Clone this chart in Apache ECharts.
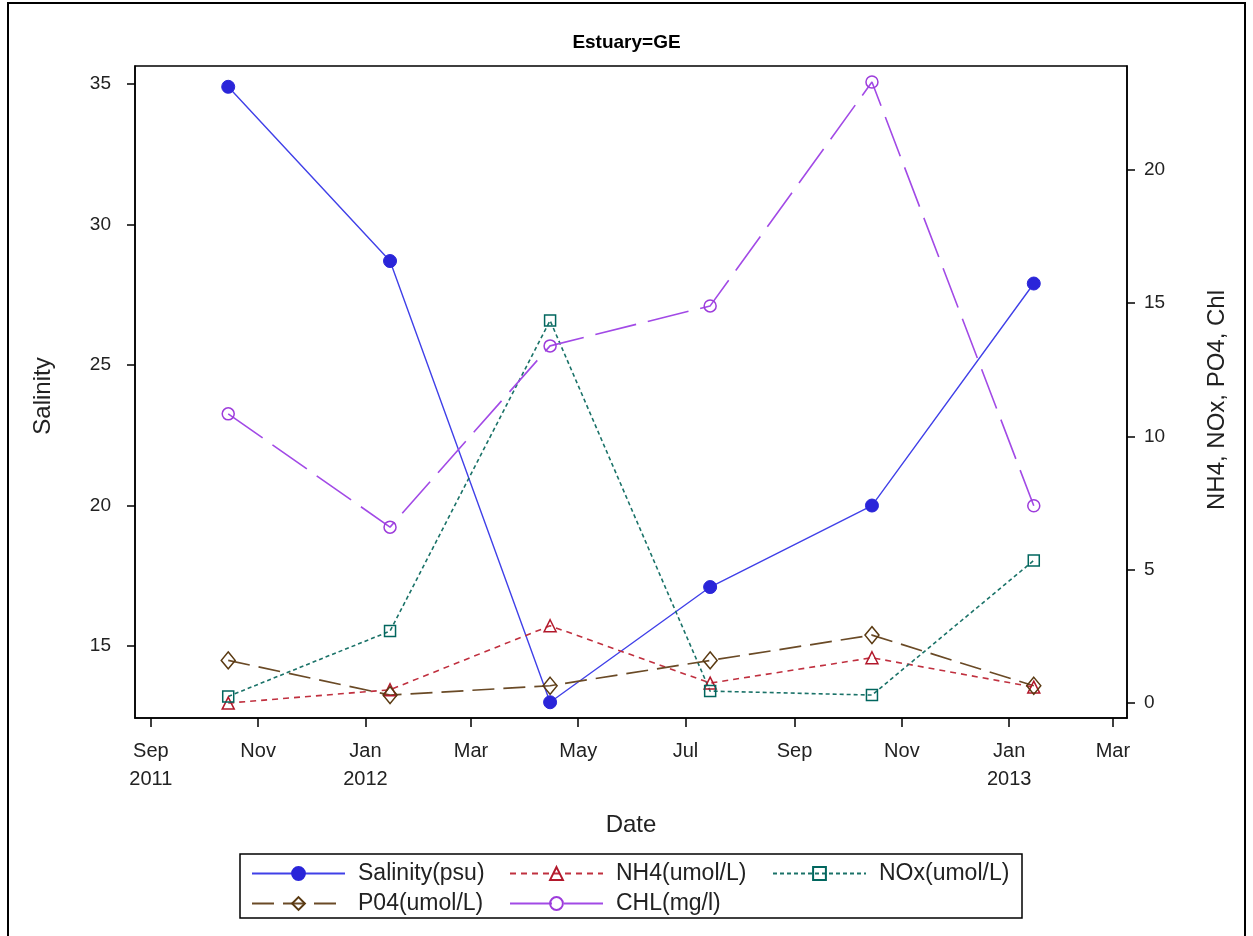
<!DOCTYPE html>
<html><head><meta charset="utf-8">
<script src="https://cdn.jsdelivr.net/npm/echarts@6/dist/echarts.min.js"></script>
<style>html,body{margin:0;padding:0;background:#fff}#c{width:1253px;height:936px}</style>
</head><body><div id="c"></div>
<script>
// ---- data ----
const dates = ['2011-10-15','2012-01-15','2012-04-15','2012-07-15','2012-10-15','2013-01-15'];
const salinity = [34.9, 28.7, 13.0, 17.1, 20.0, 27.9];
const nh4 = [0.0, 0.5, 2.9, 0.75, 1.7, 0.6];
const nox = [0.25, 2.7, 14.35, 0.45, 0.3, 5.35];
const po4 = [1.6, 0.3, 0.65, 1.6, 2.55, 0.65];
const chl = [10.85, 6.6, 13.4, 14.9, 23.3, 7.4];
const xTickDates = ['2011-09-01','2011-11-01','2012-01-01','2012-03-01','2012-05-01','2012-07-01','2012-09-01','2012-11-01','2013-01-01','2013-03-01'];
const xTickLabels = ['Sep\n2011','Nov','Jan\n2012','Mar','May','Jul','Sep','Nov','Jan\n2013','Mar'];
const leftTicks = [15, 20, 25, 30, 35];
const rightTicks = [0, 5, 10, 15, 20];
const seriesNames = ['Salinity(psu)','NH4(umol/L)','NOx(umol/L)','P04(umol/L)','CHL(mg/l)'];

const t = s => Date.parse(s);
const xTicks = xTickDates.map(t);
const pair = arr => dates.map((d, i) => [t(d), arr[i]]);

const FONT = 'Liberation Sans, Arial, sans-serif';
const TXT = '#222';

function mk(name, data, yIdx, color, markColor, symbol, size, dash, filled, lw) {
  return {
    name, type: 'line', yAxisIndex: yIdx, data: pair(data),
    symbol, symbolSize: size, showSymbol: true,
    lineStyle: { color, width: lw, type: dash },
    itemStyle: filled ? { color: markColor, borderColor: markColor, borderWidth: 1 }
                      : { color: 'rgba(0,0,0,0)', borderColor: markColor, borderWidth: 1.5 },
    emphasis: { disabled: true },
    z: 3
  };
}

const series = [
  mk(seriesNames[0], salinity, 0, '#4040E8', '#2A25D9', 'circle', 13, 'solid', true, 1.4),
  mk(seriesNames[1], nh4, 1, '#C0303F', '#B2182B', 'triangle', 12, [6, 5], false, 1.6),
  mk(seriesNames[2], nox, 1, '#1A7268', '#01665E', 'rect', 11, [4, 3], false, 1.6),
  mk(seriesNames[3], po4, 1, '#6A4A26', '#5A3A12', 'diamond', [14, 17], [22, 9], false, 1.7),
  mk(seriesNames[4], chl, 1, '#A24AE6', '#9D3CDB', 'circle', 12, [42, 12], false, 1.6)
];

const legPos = [[251, 862], [509, 862], [772, 862], [251, 892], [509, 892]];
const legends = seriesNames.map((n, i) => ({
  data: [n], left: legPos[i][0], top: legPos[i][1], orient: 'horizontal',
  padding: 0, itemWidth: 93, itemHeight: 16, selectedMode: false,
  textStyle: { fontFamily: FONT, fontSize: 23, color: TXT, padding: [0, 0, 0, 8] }
}));

const chart = echarts.init(document.getElementById('c'));
chart.setOption({
  animation: false,
  backgroundColor: '#fff',
  title: { text: 'Estuary=GE', left: 'center', top: 28,
    textStyle: { fontFamily: FONT, fontSize: 19, fontWeight: 'bold', color: '#000' } },
  grid: { left: 135, right: 126, top: 66, bottom: 218, show: true, borderColor: '#000', borderWidth: 1.5 },
  legend: legends,
  xAxis: {
    type: 'value', min: t('2011-08-23'), max: t('2013-03-09'),
    name: 'Date', nameLocation: 'middle', nameGap: 95,
    nameTextStyle: { fontFamily: FONT, fontSize: 24, color: TXT },
    axisLine: { show: true, onZero: false, lineStyle: { color: '#000', width: 1.5 } },
    axisTick: { show: true, length: 9, lineStyle: { color: '#000', width: 1.5 }, customValues: xTicks },
    axisLabel: { customValues: xTicks, margin: 19, fontFamily: FONT, fontSize: 20, color: TXT, lineHeight: 28,
      formatter: v => { const k = xTicks.indexOf(v); return k >= 0 ? xTickLabels[k] : ''; } },
    splitLine: { show: false }
  },
  yAxis: [{
    type: 'value', min: 12.44, max: 35.64, position: 'left',
    name: 'Salinity', nameLocation: 'middle', nameGap: 80, nameRotate: 90,
    nameTextStyle: { fontFamily: FONT, fontSize: 24, color: TXT, padding: [0, 8, 0, 0] },
    axisLine: { show: true, onZero: false, lineStyle: { color: '#000', width: 1.5 } },
    axisTick: { show: true, length: 8, lineStyle: { color: '#000', width: 1.5 }, customValues: leftTicks },
    axisLabel: { customValues: leftTicks, margin: 24, fontFamily: FONT, fontSize: 19, color: TXT },
    splitLine: { show: false }
  }, {
    type: 'value', min: -0.56, max: 23.9, position: 'right',
    name: 'NH4, NOx, PO4, Chl', nameLocation: 'middle', nameGap: 78, nameRotate: 90,
    nameTextStyle: { fontFamily: FONT, fontSize: 24, color: TXT, padding: [0, 16, 0, 0] },
    axisLine: { show: true, onZero: false, lineStyle: { color: '#000', width: 1.5 } },
    axisTick: { show: true, length: 8, lineStyle: { color: '#000', width: 1.5 }, customValues: rightTicks },
    axisLabel: { customValues: rightTicks, margin: 17, fontFamily: FONT, fontSize: 19, color: TXT },
    splitLine: { show: false }
  }],
  graphic: [
    { type: 'rect', shape: { x: 240, y: 854, width: 782, height: 64 }, style: { fill: 'none', stroke: '#000', lineWidth: 1.5 }, silent: true },
    { type: 'rect', shape: { x: 8, y: 3, width: 1237, height: 1000 }, style: { fill: 'none', stroke: '#000', lineWidth: 2 }, silent: true }
  ],
  series
});
</script></body></html>
